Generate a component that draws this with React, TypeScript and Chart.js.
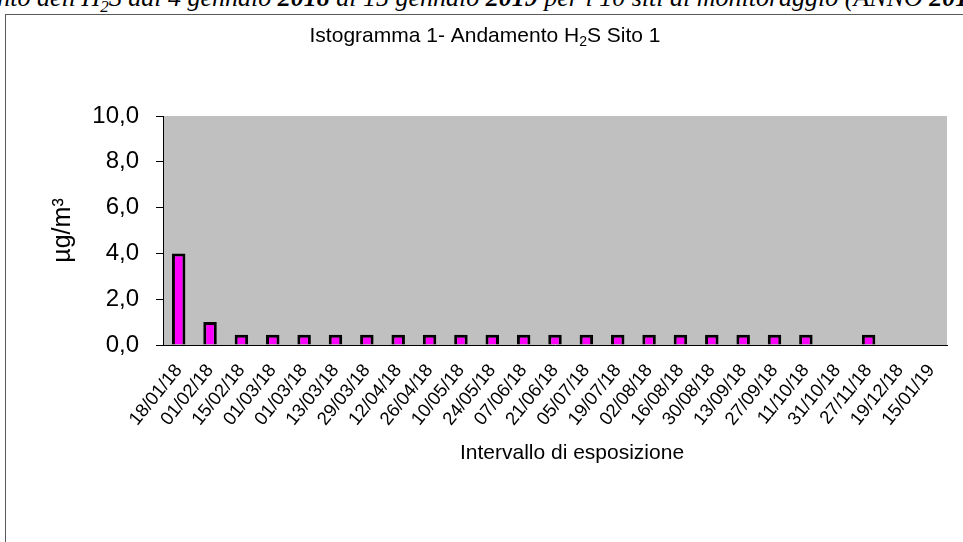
import React, { useEffect, useRef } from 'react';
import { Chart, registerables } from 'chart.js';

Chart.register(...registerables);

const categories: string[] = [
  '18/01/18', '01/02/18', '15/02/18', '01/03/18', '01/03/18', '13/03/18', '29/03/18',
  '12/04/18', '26/04/18', '10/05/18', '24/05/18', '07/06/18', '21/06/18', '05/07/18',
  '19/07/18', '02/08/18', '16/08/18', '30/08/18', '13/09/18', '27/09/18', '11/10/18',
  '31/10/18', '27/11/18', '19/12/18', '15/01/19',
];

const h2sValues: (number | null)[] = [
  4.0, 1.0, 0.45, 0.45, 0.45, 0.45, 0.45,
  0.45, 0.45, 0.45, 0.45, 0.45, 0.45, 0.45,
  0.45, 0.45, 0.45, 0.45, 0.45, 0.45, 0.45,
  null, 0.45, null, null,
];

const yMin = 0;
const yMax = 10;
const yStep = 2;

const titleMain = 'Istogramma 1- Andamento H';
const titleSub = '2';
const titleEnd = 'S Sito 1';
const xAxisTitle = 'Intervallo di esposizione';
const yAxisTitle = 'µg/m³';

const FONT = '"Liberation Sans", Arial, Helvetica, sans-serif';

const plotBgPlugin = {
  id: 'plotBg',
  beforeDraw(chart: any) {
    const { ctx, chartArea } = chart;
    ctx.save();
    ctx.fillStyle = '#C0C0C0';
    ctx.fillRect(chartArea.left, chartArea.top, chartArea.right - chartArea.left, chartArea.bottom - chartArea.top);
    ctx.restore();
  },
};

const textPlugin = {
  id: 'texts',
  afterDraw(chart: any) {
    const { ctx } = chart;
    ctx.save();
    ctx.fillStyle = '#000';
    ctx.textBaseline = 'alphabetic';
    ctx.textAlign = 'left';
    // chart title with subscript
    const big = `21px ${FONT}`;
    const small = `14px ${FONT}`;
    ctx.font = big;
    const w1 = ctx.measureText(titleMain).width;
    const w3 = ctx.measureText(titleEnd).width;
    ctx.font = small;
    const w2 = ctx.measureText(titleSub).width;
    const total = w1 + w2 + w3;
    const cx = 485;
    const by = 42;
    let x = cx - total / 2;
    ctx.font = big;
    ctx.fillText(titleMain, x, by);
    x += w1;
    ctx.font = small;
    ctx.fillText(titleSub, x, by + 4);
    x += w2;
    ctx.font = big;
    ctx.fillText(titleEnd, x, by);
    // x axis title
    ctx.font = `21px ${FONT}`;
    ctx.textAlign = 'center';
    ctx.fillText(xAxisTitle, 572, 459);
    ctx.restore();
  },
};

export default function App() {
  const canvasRef = useRef<HTMLCanvasElement | null>(null);

  useEffect(() => {
    if (!canvasRef.current) return;
    const chart = new Chart(canvasRef.current, {
      type: 'bar',
      data: {
        labels: categories,
        datasets: [
          {
            data: h2sValues,
            backgroundColor: '#FF00FF',
            borderColor: '#000000',
            borderWidth: 3,
            barPercentage: 0.43,
            categoryPercentage: 1,
          },
        ],
      },
      options: {
        responsive: false,
        animation: false,
        layout: { padding: { left: 38, right: 16, top: 116, bottom: 0 } },
        plugins: {
          legend: { display: false },
          title: { display: false },
          tooltip: { enabled: false },
        },
        scales: {
          x: {
            grid: { display: false, drawTicks: false },
            border: { display: true, color: '#000', width: 1 },
            ticks: {
              color: '#000',
              font: { family: FONT, size: 18.5 },
              minRotation: 51,
              maxRotation: 51,
              padding: 15,
              autoSkip: false,
            },
            afterFit: (s: any) => {
              s.height = 197;
              s.paddingLeft = 0;
              s.paddingRight = 0;
            },
          },
          y: {
            min: yMin,
            max: yMax,
            ticks: {
              stepSize: yStep,
              color: '#000',
              font: { family: FONT, size: 24 },
              padding: 17,
              callback: (v: any) => Number(v).toFixed(1).replace('.', ','),
            },
            grid: { display: true, drawOnChartArea: false, drawTicks: true, tickLength: 7, color: '#000' },
            border: { display: true, color: '#000', width: 1 },
            title: {
              display: true,
              text: yAxisTitle,
              color: '#000',
              font: { family: FONT, size: 25 },
              padding: { top: 10, bottom: 0 },
            },
            afterFit: (s: any) => {
              s.width = 125;
            },
          },
        },
      } as any,
      plugins: [plotBgPlugin, textPlugin],
    });
    return () => chart.destroy();
  }, []);

  return (
    <div
      style={{
        position: 'absolute',
        left: 0,
        top: 0,
        width: 963,
        height: 542,
        overflow: 'hidden',
        background: '#fff',
      }}
    >
      <div
        style={{
          position: 'absolute',
          left: 37,
          top: -12,
          fontFamily: '"Liberation Serif", "Times New Roman", serif',
          fontStyle: 'italic',
          fontSize: 26,
          lineHeight: '20px',
          whiteSpace: 'nowrap',
          color: '#000',
        }}
      >
        <span style={{ position: 'absolute', right: '100%' }}>Andamento{'\u00a0'}</span>
        dell'H<sub style={{ fontSize: 17, lineHeight: 0 }}>2</sub>S dal 4 gennaio <b>2018</b> al 15 gennaio{' '}
        <b>2019</b> per i 10 siti di monitoraggio (ANNO <b>2018</b>)
      </div>
      <div
        style={{
          position: 'absolute',
          left: 5,
          top: 14,
          width: 1000,
          height: 600,
          border: '1px solid #5a5a5a',
        }}
      />
      <canvas
        ref={canvasRef}
        width={963}
        height={542}
        style={{ position: 'absolute', left: 0, top: 0, width: 963, height: 542 }}
      />
    </div>
  );
}
